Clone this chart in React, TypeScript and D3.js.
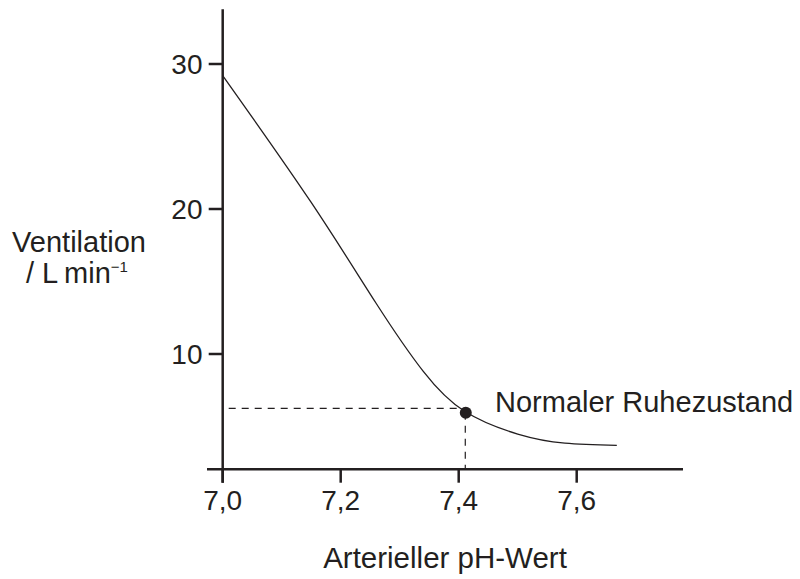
import React from "react";
import * as d3 from "d3";

const phValues = [7.0, 7.15, 7.26, 7.34, 7.41, 7.5, 7.58, 7.668];
const ventValues = [29.2, 20.45, 13.5, 8.8, 6.05, 4.48, 3.85, 3.7];
const xTicks = [7.0, 7.2, 7.4, 7.6];
const xTickLabels = ["7,0", "7,2", "7,4", "7,6"];
const yTicks = [10, 20, 30];
const yTickLabels = ["10", "20", "30"];
const restPoint = { ph: 7.412, vent: 5.95, label: "Normaler Ruhezustand" };
const guideLevel = 6.25;
const xTitle = "Arterieller pH-Wert";
const yTitle1 = "Ventilation";
const yTitle2 = "/ L\u2009min";
const yTitleSup = "\u22121";

const W = 800;
const H = 579;
const INK = "#231f20";
const FONT = "'Liberation Sans', Arial, Helvetica, sans-serif";

export default function App() {
  const x = d3.scaleLinear().domain([7.0, 7.6]).range([222.7, 576.7]);
  const y = d3.scaleLinear().domain([10, 30]).range([354, 64]);
  const axisY = 469.3;
  const axisX = x(7.0);

  const pts: [number, number][] = phValues.map((p, i) => [p, ventValues[i]]);
  const line = d3
    .line<[number, number]>()
    .x((d) => x(d[0]))
    .y((d) => y(d[1]))
    .curve(d3.curveNatural);

  return (
    <svg
      width={W}
      height={H}
      viewBox={`0 0 ${W} ${H}`}
      style={{ position: "absolute", left: 0, top: 0, background: "#fff" }}
      fontFamily={FONT}
    >
      <rect x={0} y={0} width={W} height={H} fill="#fff" />
      {/* dashed guides */}
      <line
        x1={axisX + 2}
        x2={x(restPoint.ph)}
        y1={y(guideLevel)}
        y2={y(guideLevel)}
        stroke={INK}
        strokeWidth={1.2}
        strokeDasharray="7,6"
        strokeDashoffset={-4}
      />
      <line
        x1={x(restPoint.ph) - 0.5}
        x2={x(restPoint.ph) - 0.5}
        y1={y(restPoint.vent)}
        y2={axisY}
        stroke={INK}
        strokeWidth={1.2}
        strokeDasharray="7,6"
      />
      {/* curve */}
      <path d={line(pts) || ""} fill="none" stroke={INK} strokeWidth={1.3} />
      <circle cx={x(restPoint.ph)} cy={y(restPoint.vent)} r={6} fill={INK} />
      <text x={495} y={y(restPoint.vent) - 0.5} fontSize={29} fill={INK}>
        {restPoint.label}
      </text>

      {/* y axis */}
      <line x1={axisX} x2={axisX} y1={9.3} y2={482.7} stroke={INK} strokeWidth={2.5} />
      {yTicks.map((t, i) => (
        <g key={t}>
          <line x1={axisX - 14} x2={axisX} y1={y(t)} y2={y(t)} stroke={INK} strokeWidth={2.5} />
          <text x={202.5} y={y(t) + 9.5} fontSize={28} textAnchor="end" fill={INK}>
            {yTickLabels[i]}
          </text>
        </g>
      ))}

      {/* x axis */}
      <line x1={207} x2={683} y1={axisY} y2={axisY} stroke={INK} strokeWidth={2.5} />
      {xTicks.map((t, i) => (
        <g key={t}>
          <line x1={x(t)} x2={x(t)} y1={axisY} y2={482.7} stroke={INK} strokeWidth={2.5} />
          <text x={x(t)} y={510} fontSize={28} textAnchor="middle" fill={INK}>
            {xTickLabels[i]}
          </text>
        </g>
      ))}

      {/* titles */}
      <text x={445} y={568} fontSize={29.5} textAnchor="middle" fill={INK}>
        {xTitle}
      </text>
      <text x={79} y={252} fontSize={29} textAnchor="middle" fill={INK}>
        {yTitle1}
      </text>
      <text x={26} y={283} fontSize={29} fill={INK}>
        {yTitle2}
        <tspan fontSize={15} dy={-11}>
          {yTitleSup}
        </tspan>
      </text>
    </svg>
  );
}
